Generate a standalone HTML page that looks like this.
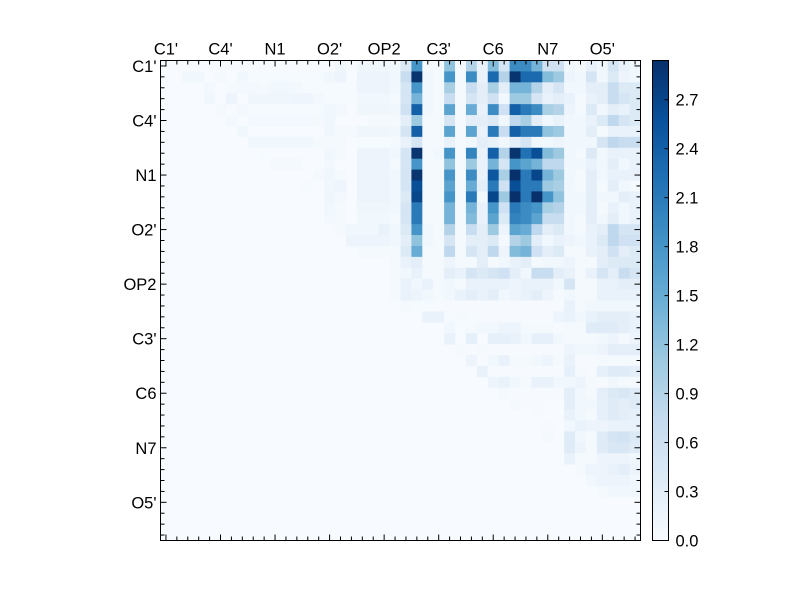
<!DOCTYPE html>
<html><head><meta charset="utf-8"><style>
html,body{margin:0;padding:0;background:#fff;}
svg{display:block;font-family:"Liberation Sans",sans-serif;}
</style></head><body>
<svg id="chart" width="800" height="600" viewBox="0 0 800 600" xmlns="http://www.w3.org/2000/svg">
<rect width="800" height="600" fill="#ffffff"/>
<g id="cells"></g>
<g id="axes"></g>
<g id="cbar"></g>
</svg>
<script>
const atomLabels = ["C1'","C4'","N1","O2'","OP2","C3'","C6","N7","O5'"];
const colorbarTicks = [0.0,0.3,0.6,0.9,1.2,1.5,1.8,2.1,2.4,2.7];
const vmin = 0, vmax = 2.94;
const nCells = 44;
// left block: rows 0..17, cols 0..20
const leftRows = [
[0,0,0,0,0,0,0,0,0,0,0,0,0,0,0,0,0.1,0,0.1,0.1,0.1],
[0,0,0.1,0.1,0,0.05,0,0.1,0.03,0.03,0.03,0.03,0.03,0.03,0.03,0.1,0.15,0,0.15,0.15,0.15],
[0,0,0,0,0.07,0,0.05,0.08,0.08,0.05,0.1,0.1,0.07,0.03,0.03,0.03,0.03,0.03,0.15,0.15,0.15],
[0,0,0,0,0.1,0,0.15,0,0.12,0.12,0.12,0.12,0.13,0.13,0.07,0.03,0.03,0.03,0.1,0.1,0.1],
[0,0,0,0,0,0.05,0,0.08,0.03,0.03,0.03,0.03,0.03,0.03,0.03,0.1,0.08,0,0.12,0.12,0.12],
[0,0,0,0,0,0,0.08,0,0.07,0.07,0.07,0.07,0.07,0.07,0.05,0.1,0,0,0,0.05,0.05],
[0,0,0,0,0,0,0,0.1,0,0,0,0,0,0,0,0.1,0.05,0.05,0.12,0.12,0.12],
[0,0,0,0,0,0,0,0,0.1,0.1,0.1,0.1,0.1,0.1,0.05,0.05,0.05,0,0.03,0.03,0.03],
[0,0,0,0,0,0,0,0,0,0.03,0,0,0,0,0,0.1,0.05,0,0.15,0.15,0.15],
[0,0,0,0,0,0,0,0,0,0,0.05,0.05,0.05,0,0,0.08,0,0,0.15,0.15,0.15],
[0,0,0,0,0,0,0,0,0,0,0,0,0,0,0.05,0.1,0.05,0,0.15,0.15,0.15],
[0,0,0,0,0,0,0,0,0,0,0,0,0,0.03,0,0.1,0.15,0,0.15,0.15,0.15],
[0,0,0,0,0,0,0,0,0,0,0,0,0,0,0,0.12,0.08,0,0.15,0.15,0.15],
[0,0,0,0,0,0,0,0,0,0,0,0,0,0,0,0.1,0.05,0,0.12,0.12,0.12],
[0,0,0,0,0,0,0,0,0,0,0,0,0,0,0,0.07,0.05,0,0.1,0.1,0.1],
[0,0,0,0,0,0,0,0,0,0,0,0,0,0,0,0,0.05,0.1,0.1,0.1,0.2],
[0,0,0,0,0,0,0,0,0,0,0,0,0,0,0,0,0,0.15,0.15,0.15,0.15],
[0,0,0,0,0,0,0,0,0,0,0,0,0,0,0,0,0,0,0.05,0.05,0.05]
];
// right block: rows 0..39, cols 21..43
const rightRows = [
[0.1,0.4,1.8,0.05,0.05,1.2,0.05,0.9,0.2,1.3,0.5,1.9,1.9,1.4,0.6,0.6,0.1,0.05,0.2,0.1,0.5,0.2,0.1],
[0.1,0.7,2.9,0.1,0.05,1.8,0.05,1.9,0.2,2.3,0.9,2.9,2.3,2.3,1.3,1.1,0.15,0.1,0.5,0.1,0.4,0.15,0.1],
[0.1,0.5,1.8,0.1,0.05,1.0,0.05,0.7,0.3,1.0,0.3,1.4,1.4,0.9,0.3,0.5,0.1,0.1,0.3,0.3,0.7,0.4,0.4],
[0.05,0.5,1.4,0.1,0.05,0.7,0.05,0.5,0.3,0.6,0.1,1.1,1.1,0.5,0.2,0.3,0.2,0.05,0.2,0.3,0.7,0.5,0.4],
[0.1,0.6,2.4,0.1,0.05,1.6,0.05,1.5,0.2,1.9,0.6,2.4,2.1,1.9,1.0,0.9,0.15,0.05,0.4,0.1,0.3,0.2,0.4],
[0.05,0.3,1.1,0.05,0.05,0.5,0.05,0.3,0.3,0.4,0.1,0.8,1.0,0.3,0.1,0.2,0.1,0.1,0.2,0.4,0.8,0.5,0.4],
[0.1,0.5,2.4,0.05,0.05,1.6,0.05,1.6,0.2,2.1,0.7,2.4,2.1,2.1,1.2,1.1,0.1,0.1,0.3,0.05,0.2,0.2,0.2],
[0.05,0.2,0.5,0.05,0.05,0.2,0.05,0.1,0.3,0.2,0.1,0.3,0.5,0.1,0.1,0.15,0.1,0.1,0.1,0.5,0.8,0.7,0.7],
[0.1,0.5,2.9,0.05,0.1,1.8,0.05,2.0,0.2,2.4,0.9,2.9,2.2,2.6,1.3,1.1,0.1,0.05,0.4,0.1,0.2,0.2,0.2],
[0.05,0.5,1.8,0.05,0.05,1.2,0.05,1.1,0.2,1.4,0.5,1.8,1.6,1.4,0.8,0.8,0.1,0.1,0.2,0.1,0.3,0.1,0.2],
[0.1,0.5,2.9,0.05,0.05,1.8,0.05,1.9,0.2,2.5,1.0,3.0,2.1,2.7,1.4,1.1,0.1,0.05,0.3,0.1,0.2,0.2,0.2],
[0.1,0.5,2.6,0.05,0.05,1.6,0.05,1.5,0.3,2.1,0.6,2.6,2.1,2.1,1.1,1.0,0.1,0.05,0.3,0.05,0.3,0.1,0.05],
[0.1,0.4,2.7,0.05,0.05,1.8,0.05,2.1,0.1,2.7,1.1,3.0,2.1,3.0,1.8,1.2,0.1,0.1,0.3,0.1,0.1,0.3,0.2],
[0.1,0.5,2.1,0.05,0.05,1.4,0.05,1.4,0.2,1.8,0.6,2.1,1.9,1.8,1.0,0.9,0.1,0.1,0.3,0.05,0.2,0.1,0.2],
[0.05,0.5,2.1,0.05,0.05,1.4,0.05,1.3,0.2,1.6,0.4,2.0,1.9,1.6,0.7,0.7,0.1,0.05,0.3,0.1,0.3,0.1,0.2],
[0.1,0.4,1.8,0.1,0.05,0.9,0.05,0.7,0.3,1.1,0.15,1.6,1.5,0.8,0.3,0.4,0.1,0.05,0.2,0.3,0.8,0.5,0.5],
[0.1,0.3,1.2,0.1,0.05,0.5,0.05,0.3,0.3,0.4,0.05,0.9,1.1,0.3,0.1,0.2,0.15,0.1,0.2,0.4,0.8,0.6,0.6],
[0.05,0.4,1.5,0.05,0.05,0.8,0.05,0.5,0.3,0.8,0.15,1.3,1.4,0.6,0.3,0.4,0.05,0.05,0.2,0.3,0.6,0.3,0.4],
[0.05,0.2,0.3,0.05,0.05,0.15,0.05,0.05,0.3,0.05,0.1,0.2,0.3,0.05,0.1,0.1,0.15,0.05,0.05,0.3,0.4,0.4,0.4],
[0.05,0.1,0.2,0.05,0.05,0.3,0.2,0.5,0.4,0.5,0.6,0.3,0.1,0.7,0.7,0.3,0.2,0.05,0.2,0.5,0.3,0.7,0.5],
[0.05,0.2,0.1,0.2,0.05,0.1,0.05,0.2,0.2,0.2,0.2,0.15,0.2,0.2,0.2,0.1,0.5,0.05,0.05,0.2,0.2,0.3,0.3],
[0.05,0.2,0.15,0.1,0.05,0.1,0.2,0.3,0.2,0.3,0.1,0.15,0.2,0.3,0.15,0.05,0.1,0.05,0.05,0.2,0.2,0.2,0.2],
[0,0.05,0.03,0.03,0.02,0.02,0.02,0.02,0.02,0.02,0.02,0.02,0.02,0.02,0.02,0.02,0.2,0.05,0.1,0.1,0.1,0.1,0.1],
[0,0,0,0.2,0.2,0.03,0.05,0.03,0.02,0.02,0.02,0.02,0.02,0.02,0.02,0.15,0.2,0.1,0.2,0.3,0.3,0.3,0.2],
[0,0,0,0,0,0.1,0.03,0.05,0.1,0.1,0.15,0.15,0.05,0.05,0.05,0.02,0.05,0.05,0.35,0.35,0.35,0.3,0.2],
[0,0,0,0,0,0.2,0,0.25,0,0.25,0.25,0.2,0.1,0.25,0.25,0.1,0.05,0.05,0.05,0.1,0.15,0.05,0.15],
[0,0,0,0,0,0,0.05,0.02,0.05,0.02,0.02,0.02,0.02,0.02,0.02,0.02,0.15,0.1,0.1,0.15,0.3,0.3,0.3],
[0,0,0,0,0,0,0,0.15,0.02,0.1,0.2,0.05,0.05,0.1,0.15,0.05,0.2,0.02,0.02,0.05,0.05,0.05,0.05],
[0,0,0,0,0,0,0,0,0.2,0.02,0.02,0.02,0.02,0.02,0.02,0.02,0.25,0.05,0.02,0.25,0.35,0.35,0.3],
[0,0,0,0,0,0,0,0,0,0.15,0.2,0.1,0.05,0.2,0.2,0.1,0.1,0.15,0.05,0.02,0.1,0.05,0.05],
[0,0,0,0,0,0,0,0,0,0,0.05,0.02,0.02,0.02,0.02,0.02,0.3,0.1,0.05,0.3,0.4,0.45,0.35],
[0,0,0,0,0,0,0,0,0,0,0,0.05,0.02,0.02,0,0,0.3,0.1,0.1,0.25,0.35,0.3,0.35],
[0,0,0,0,0,0,0,0,0,0,0,0,0,0.02,0,0,0.2,0.1,0.05,0.25,0.35,0.3,0.25],
[0,0,0,0,0,0,0,0,0,0,0,0,0,0,0.02,0,0.1,0.2,0.15,0.15,0.2,0.2,0.2],
[0,0,0,0,0,0,0,0,0,0,0,0,0,0,0.05,0,0.35,0.1,0.05,0.35,0.5,0.55,0.4],
[0,0,0,0,0,0,0,0,0,0,0,0,0,0,0,0,0.35,0.15,0.05,0.35,0.45,0.45,0.35],
[0,0,0,0,0,0,0,0,0,0,0,0,0,0,0,0,0.2,0.05,0.05,0.15,0.15,0.15,0.1],
[0,0,0,0,0,0,0,0,0,0,0,0,0,0,0,0,0,0.05,0.15,0.15,0.2,0.3,0.15],
[0,0,0,0,0,0,0,0,0,0,0,0,0,0,0,0,0,0,0.1,0.15,0.15,0.15,0.1],
[0,0,0,0,0,0,0,0,0,0,0,0,0,0,0,0,0,0,0,0.05,0.1,0.1,0.1]
];

const NS="http://www.w3.org/2000/svg";
const X0=160.5, Y0=60.5, W=480, H=480, cw=W/nCells;
const FS=16.5;
function xs(i){return X0+i*cw;}
function ys(i){return Y0+i*cw;}
const stops=[[0,[247,251,255]],[0.125,[222,235,247]],[0.25,[198,219,239]],[0.375,[158,202,225]],[0.5,[107,174,214]],[0.625,[66,146,198]],[0.75,[33,113,181]],[0.875,[8,81,156]],[1,[8,48,107]]];
function cmap(v){
  let t=Math.max(0,Math.min(1,(v-vmin)/(vmax-vmin)));
  for(let k=1;k<stops.length;k++){
    if(t<=stops[k][0]){
      const a=stops[k-1],b=stops[k],f=(t-a[0])/(b[0]-a[0]);
      const c=a[1].map((x,j)=>Math.round(x+(b[1][j]-x)*f));
      return `rgb(${c[0]},${c[1]},${c[2]})`;
    }
  }
  return 'rgb(8,48,107)';
}
function mk(tag,attrs,parent){const e=document.createElementNS(NS,tag);for(const k in attrs)e.setAttribute(k,attrs[k]);parent.appendChild(e);return e;}

const M=[];
for(let r=0;r<nCells;r++){M.push(new Array(nCells).fill(0));}
leftRows.forEach((row,r)=>row.forEach((v,c)=>{M[r][c]=v;}));
rightRows.forEach((row,r)=>row.forEach((v,c)=>{M[r][21+c]=v;}));

const cells=document.getElementById('cells');
mk('rect',{x:X0,y:Y0,width:W,height:H,fill:cmap(0)},cells);
for(let r=0;r<nCells;r++)for(let c=0;c<nCells;c++){
  if(M[r][c]<=0)continue;
  const e=mk('rect',{x:xs(c),y:ys(r),width:cw+0.4,height:cw+0.4,fill:cmap(M[r][c])},cells);
  
  
}

const axes=document.getElementById('axes');
mk('rect',{x:X0,y:Y0,width:W,height:H,fill:'none',stroke:'#000','stroke-width':1},axes);
for(let i=0;i<nCells;i++){
  const p=X0+(i+0.5)*cw, q=Y0+(i+0.5)*cw;
  const L=(i%5===0)?6:4;
  mk('line',{x1:p,y1:Y0,x2:p,y2:Y0+L,stroke:'#000'},axes);
  mk('line',{x1:p,y1:Y0+H,x2:p,y2:Y0+H-L,stroke:'#000'},axes);
  mk('line',{x1:X0,y1:q,x2:X0+L,y2:q,stroke:'#000'},axes);
  mk('line',{x1:X0+W,y1:q,x2:X0+W-L,y2:q,stroke:'#000'},axes);
}
atomLabels.forEach((lab,k)=>{
  const i=k*5, p=X0+(i+0.5)*cw, q=Y0+(i+0.5)*cw;
  const t=mk('text',{x:p,y:Y0-6,'font-size':FS,'text-anchor':'middle',fill:'#000'},axes);
  t.textContent=lab;
  
  
  const u=mk('text',{x:X0-4,y:q+6,'font-size':FS,'text-anchor':'end',fill:'#000'},axes);
  u.textContent=lab;
  
  
});

const cb=document.getElementById('cbar');
const CX=652.5, CW=16, CY0=60.5, CH=480;
function cy(v){return CY0+CH-(v-vmin)/(vmax-vmin)*CH;}
const defs=mk('defs',{},cb);
const g=mk('linearGradient',{id:'grad',x1:0,y1:1,x2:0,y2:0},defs);
stops.forEach(s=>mk('stop',{offset:s[0],'stop-color':`rgb(${s[1].join(',')})`},g));
mk('rect',{x:CX,y:CY0,width:CW,height:CH,fill:'url(#grad)',stroke:'#000','stroke-width':1},cb);
colorbarTicks.forEach(v=>{
  const y=cy(v);
  mk('line',{x1:CX+CW-4,y1:y,x2:CX+CW,y2:y,stroke:'#000'},cb);
  const t=mk('text',{x:CX+CW+7,y:y+6,'font-size':FS,fill:'#000'},cb);
  t.textContent=v.toFixed(1);
  
  
});
</script>
</body></html>
